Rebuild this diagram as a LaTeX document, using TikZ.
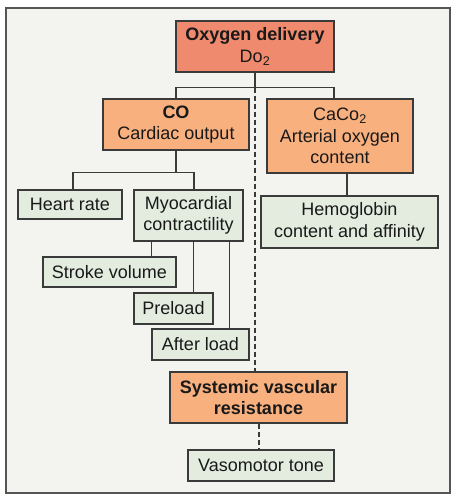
\documentclass[tikz,border=0pt]{standalone}
\usepackage{fontspec}
\setmainfont{Liberation Sans}
\usetikzlibrary{calc}
\definecolor{bgc}{HTML}{F3F3F0}
\definecolor{framec}{HTML}{555555}
\definecolor{edgec}{HTML}{3A3A3A}
\definecolor{redbox}{HTML}{F08A6E}
\definecolor{orbox}{HTML}{F7B07E}
\definecolor{grbox}{HTML}{E3ECDF}
\tikzset{
  base/.style={draw=edgec, line width=1.3pt, inner sep=0pt, align=center,
    font=\fontsize{18}{21.5}\selectfont, text=black!90},
  topbox/.style={base, fill=redbox},
  obox/.style={base, fill=orbox},
  gbox/.style={base, fill=grbox},
  link/.style={draw=edgec, line width=1.5pt},
  dlink/.style={draw=edgec, line width=2pt, dash pattern=on 5pt off 3pt}
}
\begin{document}
\begin{tikzpicture}[x=1pt, y=-1pt]
\useasboundingbox (0,0) rectangle (456,500);
\fill[white] (0,0) rectangle (456,500);
\draw[fill=bgc, draw=framec, line width=1.5pt] (6,8) rectangle (450,493);

\node[topbox, minimum width=158pt, minimum height=51pt] (top) at (255,46.5) {\textbf{Oxygen delivery}\\Do\textsubscript{2}};
\node[obox, minimum width=146pt, minimum height=51pt] (co) at (176,124.5) {\textbf{CO}\\Cardiac output};
\node[obox, minimum width=146pt, minimum height=74pt] (caco) at (340,136) {CaCo\textsubscript{2}\\Arterial oxygen\\content};
\node[gbox, minimum width=104pt, minimum height=29pt] (heart) at (70,204.5) {Heart rate};
\node[gbox, minimum width=109pt, minimum height=51pt] (myo) at (188.5,215.5) {Myocardial\\contractility};
\node[gbox, minimum width=177pt, minimum height=52pt] (hemo) at (349.5,222) {Hemoglobin\\content and affinity};
\node[gbox, minimum width=133pt, minimum height=30pt] (stroke) at (109.5,272) {Stroke volume};
\node[gbox, minimum width=79pt, minimum height=31pt] (pre) at (173.5,308.5) {Preload};
\node[gbox, minimum width=97pt, minimum height=31pt] (after) at (200.5,344.5) {After load};
\node[obox, minimum width=177pt, minimum height=51pt] (svr) at (258.5,397.5) {\textbf{Systemic vascular}\\\textbf{resistance}};
\node[gbox, minimum width=146pt, minimum height=31pt] (vaso) at (261,465.5) {Vasomotor tone};

% top connectors
\draw[link] (top.south) -- ++(0,15) coordinate (j1);
\draw[link] (co.north) |- (j1);
\draw[link] ($(caco.north)+(-6,0)$) |- (j1);
\draw[dlink] (j1) -- (j1 |- svr.north);
\draw[dlink] (svr.south) -- (svr.south |- vaso.north);

% CO children
\draw[link] (co.south) -- ++(0,22) coordinate (j2);
\draw[link] ($(heart.north)+(3,0)$) |- (j2);
\draw[link] ($(myo.north)+(5.5,0)$) |- (j2);

% CaCo2 child
\draw[link] ($(caco.south)+(7,0)$) coordinate (c1) -- (c1 |- hemo.north);

% Myocardial children
\path (myo.south west) ++(18,0) coordinate (m1);
\path (myo.south west) ++(60,0) coordinate (m2);
\path (myo.south west) ++(96,0) coordinate (m3);
\draw[link] (m1) -- (m1 |- stroke.north);
\draw[link] (m2) -- (m2 |- pre.north);
\draw[link] (m3) -- (m3 |- after.north);
\end{tikzpicture}
\end{document}
